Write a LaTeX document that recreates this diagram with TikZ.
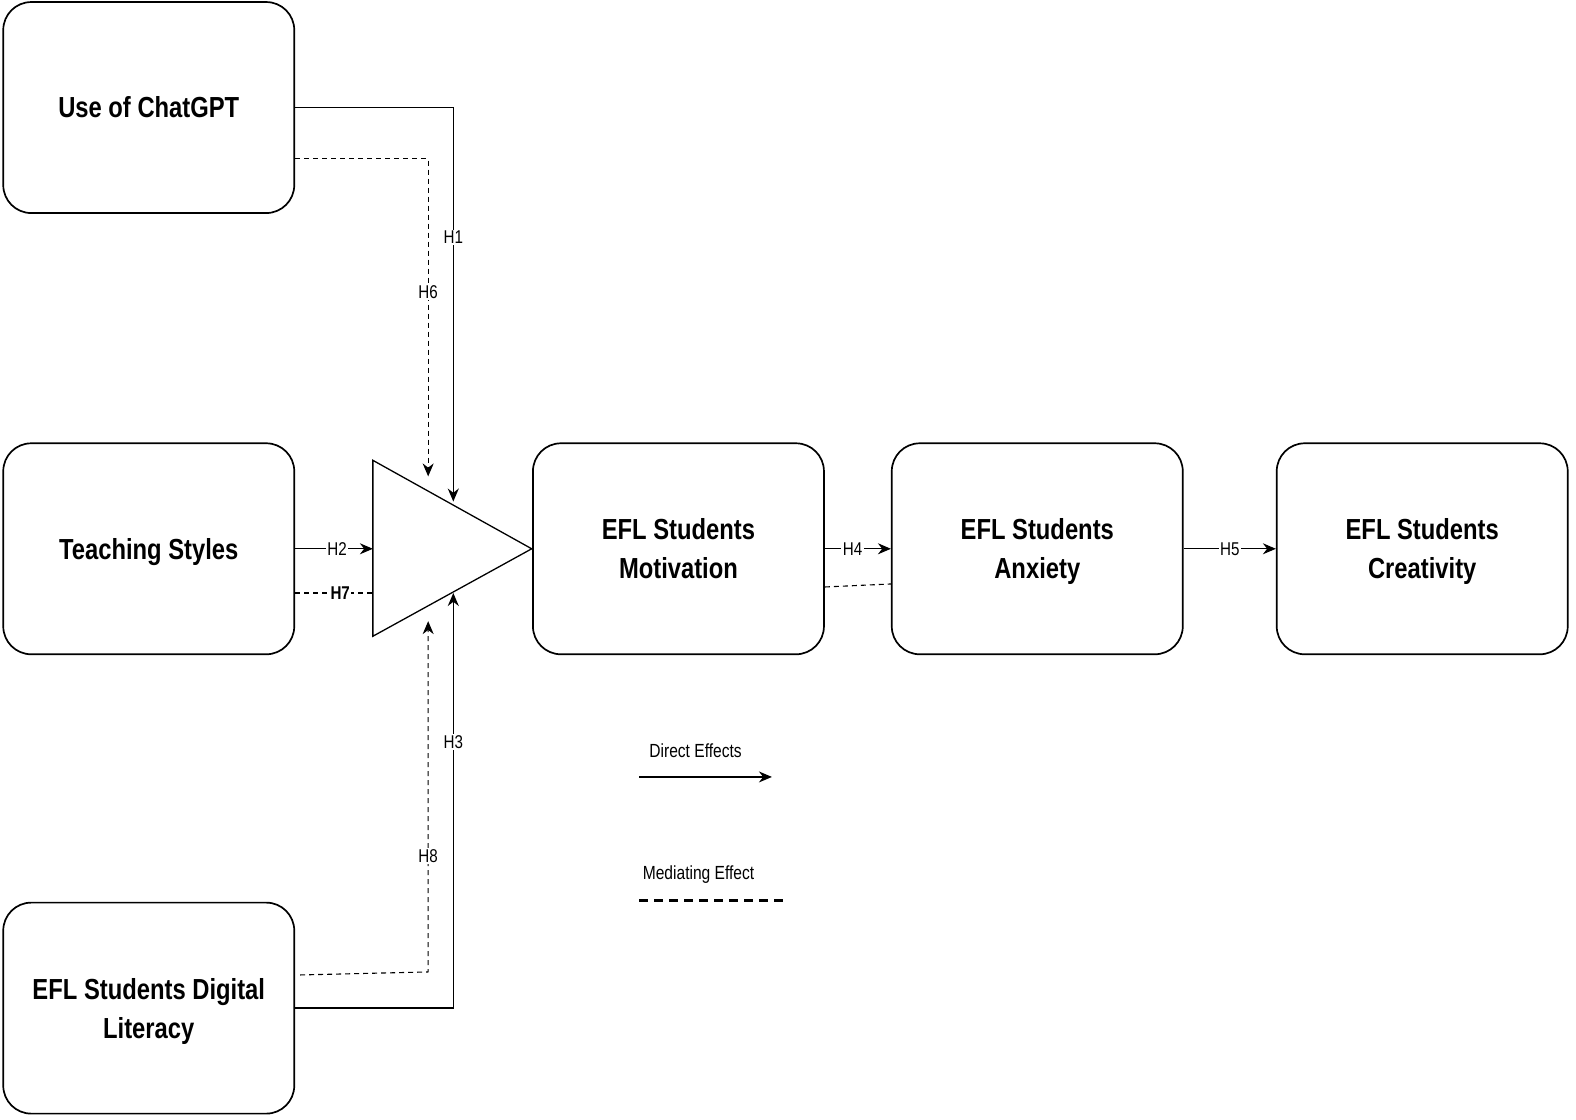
\documentclass[tikz,border=0pt]{standalone}
\usepackage{fontspec}
\setmainfont{Liberation Sans}
\newfontfamily\narrowfont[FakeStretch=0.82]{Liberation Sans}
\usetikzlibrary{arrows.meta,calc}
\newcommand\nodepth[1]{\raisebox{0pt}[\height][0pt]{#1}}
\begin{document}
\begin{tikzpicture}[x=1.0051pt,y=-1.0051pt,
  box/.style={draw, line width=1.7pt, rounded corners=28pt, minimum width=291pt, minimum height=211pt, align=center, inner sep=0pt,
    font=\narrowfont\bfseries\fontsize{29}{39}\selectfont},
  conn/.style={line width=1.3pt},
  tipstyle/.style={-{Stealth[length=13pt,width=11pt]}},
  arr/.style={conn, tipstyle},
  medline/.style={line width=1.1pt, dash pattern=on 5pt off 4pt},
  lab/.style={fill=white, inner sep=1.5pt, font=\narrowfont\fontsize{18.5}{20}\selectfont},
  legtxt/.style={inner sep=0pt, font=\narrowfont\fontsize{19}{21}\selectfont}
]
\useasboundingbox (0,0) rectangle (1568,1114);

% boxes
\node[box] (chat) at (148,107) {Use of ChatGPT};
\node[box] (ts) at (148,546) {\nodepth{Teaching Styles}};
\node[box] (dl) at (148,1003) {EFL Students Digital\\\nodepth{Literacy}};
\node[box] (mot) at (675,546) {EFL Students\\\nodepth{Motivation}};
\node[box] (anx) at (1032,546) {EFL Students\\\nodepth{Anxiety}};
\node[box] (cre) at (1415,546) {EFL Students\\\nodepth{Creativity}};

% triangle
\coordinate (tA) at (371,458);
\coordinate (tB) at (371,633);
\coordinate (tC) at (529,546);
\draw[line width=1.3pt] (tA) -- (tC) -- (tB) -- cycle;

% end points at the triangle
\coordinate (h1end) at (451,499);
\coordinate (h6end) at (426,474);
\coordinate (h2end) at (371,546);
\coordinate (h7end) at (371,590);
\coordinate (h3end) at (451,590);
\coordinate (h8end) at (426,618);

% direct effects
\draw[arr] (chat.east) -| (h1end) node[lab, pos=0.665] {H1};
\draw[arr] (ts.east) -- (h2end) node[lab, pos=0.54] {H2};
\draw[arr] (dl.east) -| (h3end) node[lab, pos=0.82] {H3};
\draw[arr] (mot.east) -- (anx.west) node[lab, pos=0.42] {H4};
\draw[arr] (anx.east) -- (cre.west) node[lab, pos=0.5] {H5};

% mediating effects
\draw[medline, tipstyle] ($(chat.east)+(0,51)$) -| (h6end) node[lab, pos=0.71] {H6};
\draw[medline] ($(ts.east)+(0,44)$) -- (h7end) node[lab, pos=0.58, font=\narrowfont\bfseries\fontsize{18.5}{20}\selectfont] {H7};
\draw[medline, tipstyle] ($(dl.east)+(5,-33)$) -- (426,967) -- (h8end) node[lab, pos=0.33] {H8};
\draw[medline] ($(mot.east)+(0,38)$) -- ($(anx.west)+(0,35)$);

% legend
\node[legtxt] (de) at (692,747) {Direct Effects};
\coordinate (l1a) at (636,773);
\coordinate (l1b) at (768,773);
\draw[arr] (l1a) -- (l1b);
\node[legtxt] (me) at (695,870) {Mediating Effect};
\coordinate (l2a) at (636,896);
\coordinate (l2b) at (780,896);
\draw[line width=2.6pt, dash pattern=on 9pt off 6pt] (l2a) -- (l2b);
\end{tikzpicture}
\end{document}
